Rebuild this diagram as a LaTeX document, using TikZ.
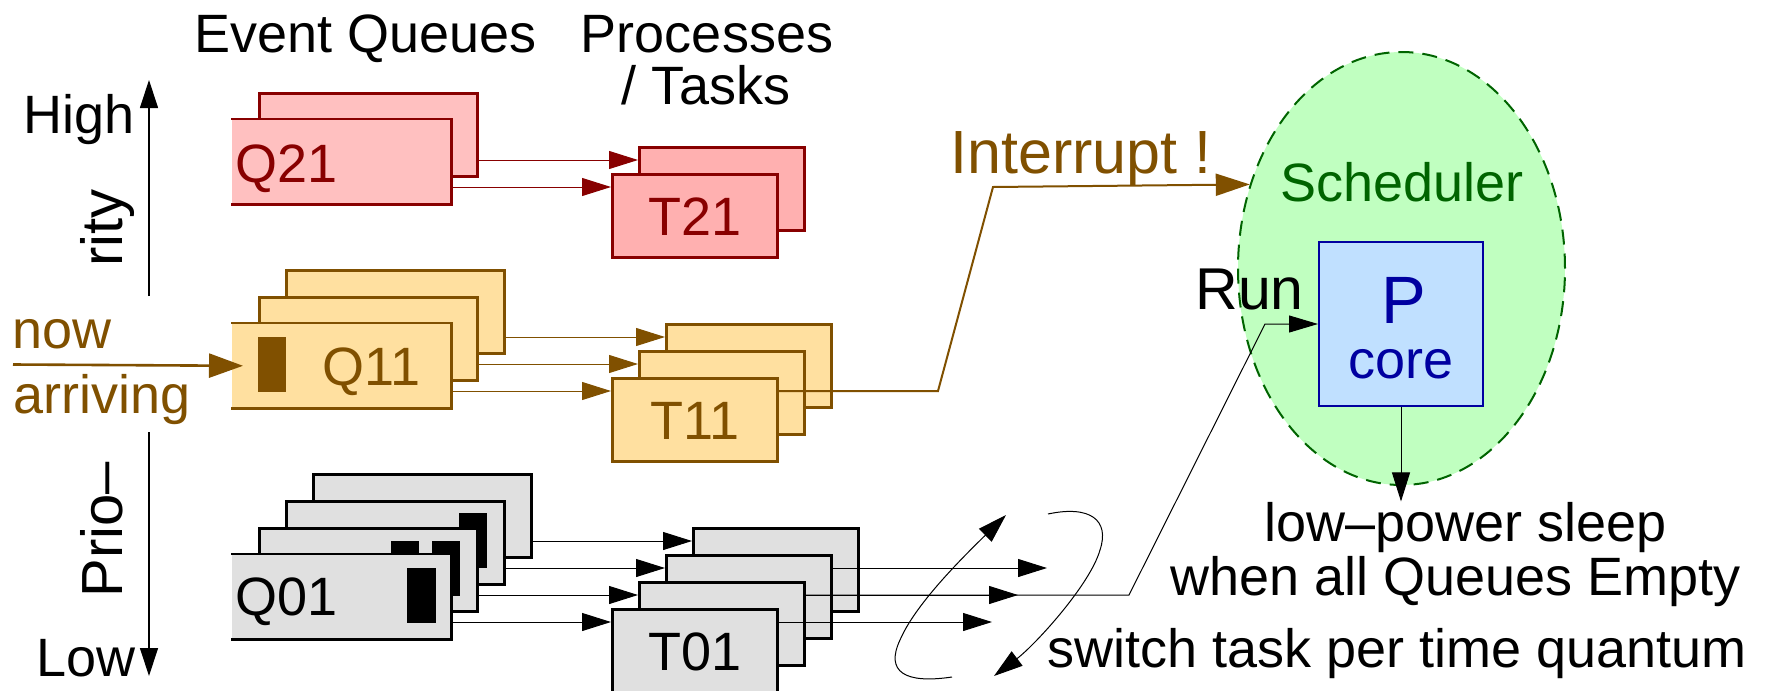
\documentclass[tikz,border=0pt]{standalone}
\usepackage{fontspec}
\setmainfont{Liberation Sans}
\usetikzlibrary{arrows.meta,shapes.geometric,calc}
\definecolor{dred}{RGB}{136,0,0}
\definecolor{qredfill}{RGB}{255,192,192}
\definecolor{tredfill}{RGB}{255,176,176}
\definecolor{brn}{RGB}{128,80,0}
\definecolor{ofill}{RGB}{255,224,160}
\definecolor{gfill}{RGB}{224,224,224}
\definecolor{sgreen}{RGB}{0,100,0}
\definecolor{sfill}{RGB}{192,255,192}
\definecolor{pblue}{RGB}{0,0,160}
\definecolor{pfill}{RGB}{192,224,255}
\begin{document}
\begin{tikzpicture}[x=0.5pt,y=-0.5pt,
  txt/.style={inner sep=0pt, anchor=base west, font=\fontsize{27}{30}\selectfont},
  ctxt/.style={txt, anchor=base},
  vtxt/.style={inner sep=0pt, anchor=base west, rotate=90, font=\fontsize{29}{32}\selectfont},
  box/.style={rectangle, inner sep=0pt, anchor=north west, line width=1.3pt},
  qbox/.style={box, minimum width=109pt, minimum height=41.5pt},
  tbox/.style={box, minimum width=82.5pt, minimum height=41.5pt},
  thinarr/.style={line width=0.5pt, -{Triangle[length=14.5pt,width=9pt]}},
  openbox/.style={line width=1.3pt},
]
\useasboundingbox (0,0) rectangle (1768,691);

% ---------- titles ----------
\node[txt] (evq) at (194,52) {Event Queues};
\node[ctxt] (proc1) at (707,52) {Processes};
\node[ctxt] (proc2) at (706,104) {/ Tasks};

% ---------- priority axis ----------
\node[txt] (high) at (23,133) {High};
\node[txt] (low) at (36,676) {Low};
\node[vtxt] (rity) at (122,267) {rity};
\node[vtxt] (prio) at (122,598) {Prio--};
\coordinate (axt) at (149,80);
\coordinate (axm1) at (149,296);
\coordinate (axm2) at (149,432);
\coordinate (axb) at (149,676);
\draw[line width=0.6pt, -{Triangle[length=14pt,width=9pt]}] (axm1) -- (axt);
\draw[line width=0.6pt, -{Triangle[length=14pt,width=9pt]}] (axm2) -- (axb);

% ---------- Q21 / T21 ----------
\node[qbox, fill=qredfill, draw=dred] (q21b) at (258,92) {};
\node[qbox, fill=qredfill] (q21f) at (231,119) {};
\draw[openbox, dred] (q21f.north west) -- (q21f.north east) -- (q21f.south east) -- (q21f.south west);
\node[txt, text=dred] (q21l) at (235,182) {Q21};
\node[tbox, fill=tredfill, draw=dred] (t21b) at (638,146) {};
\node[tbox, fill=tredfill, draw=dred] (t21f) at (611,173) {};
\node[ctxt, text=dred] (t21l) at ($(t21f.north)+(0,62)$) {T21};
\draw[thinarr, dred] ($(q21b.north east)+(0,68)$) coordinate (a21b) -- (a21b -| t21b.west);
\draw[thinarr, dred] ($(q21f.north east)+(0,68)$) coordinate (a21f) -- (a21f -| t21f.west);

% ---------- Q11 / T11 ----------
\node[qbox, fill=ofill, draw=brn] (q11b) at (285,269) {};
\node[qbox, fill=ofill, draw=brn] (q11m) at (258,296) {};
\node[qbox, fill=ofill] (q11f) at (231,323) {};
\draw[openbox, brn] (q11f.north west) -- (q11f.north east) -- (q11f.south east) -- (q11f.south west);
\fill[brn] ($(q11f.north west)+(27,14)$) rectangle ++(28,55);
\node[txt, text=brn] (q11l) at (322,385) {Q11};
\node[tbox, fill=ofill, draw=brn] (t11b) at (665,323) {};
\node[tbox, fill=ofill, draw=brn] (t11m) at (638,350) {};
\node[tbox, fill=ofill, draw=brn] (t11f) at (611,377) {};
\node[ctxt, text=brn] (t11l) at ($(t11f.north)+(0,62)$) {T11};
\draw[thinarr, brn] ($(q11b.north east)+(0,68)$) coordinate (a11b) -- (a11b -| t11b.west);
\draw[thinarr, brn] ($(q11m.north east)+(0,68)$) coordinate (a11m) -- (a11m -| t11m.west);
\draw[thinarr, brn] ($(q11f.north east)+(0,68)$) coordinate (a11f) -- (a11f -| t11f.west);

% now arriving
\node[txt, text=brn] (now) at (12,348) {now};
\node[txt, text=brn] (arr) at (13,413) {arriving};
\coordinate (nowstart) at (13,364.5);
\draw[brn, line width=1.3pt, -{Triangle[length=17pt,width=12pt]}] (nowstart) -- ($(q11f.west)+(12,0)$);

% ---------- Q01 / T01 ----------
\node[qbox, fill=gfill, draw=black] (q01d) at (312,473) {};
\node[qbox, fill=gfill, draw=black] (q01c) at (285,500) {};
\fill ($(q01c.north west)+(174,13)$) rectangle ++(28,55);
\node[qbox, fill=gfill, draw=black] (q01b) at (258,527) {};
\fill ($(q01b.north west)+(133,14)$) rectangle ++(28,55);
\fill ($(q01b.north west)+(174,14)$) rectangle ++(28,55);
\node[qbox, fill=gfill] (q01f) at (231,554) {};
\draw[openbox] (q01f.north west) -- (q01f.north east) -- (q01f.south east) -- (q01f.south west);
\fill ($(q01f.north west)+(176,14)$) rectangle ++(29,55);
\node[txt] (q01l) at (235,615) {Q01};

\node[tbox, fill=gfill, draw=black] (t01d) at (692,527) {};
\node[tbox, fill=gfill, draw=black] (t01c) at (665,554) {};
\node[tbox, fill=gfill, draw=black] (t01b) at (638,581) {};
\node[tbox, fill=gfill, draw=black] (t01f) at (611,608) {};
\node[ctxt] (t01l) at ($(t01f.north)+(0,62)$) {T01};
\draw[thinarr] ($(q01d.north east)+(0,68)$) coordinate (a01d) -- (a01d -| t01d.west);
\draw[thinarr] ($(q01c.north east)+(0,68)$) coordinate (a01c) -- (a01c -| t01c.west);
\draw[thinarr] ($(q01b.north east)+(0,68)$) coordinate (a01b) -- (a01b -| t01b.west);
\draw[thinarr] ($(q01f.north east)+(0,68)$) coordinate (a01f) -- (a01f -| t01f.west);

% outgoing task arrows
\coordinate (oc) at (1047,568);
\coordinate (ob) at (1018,595);
\coordinate (of) at (992,622);
\draw[thinarr] ($(t01c.north east)+(0,14)$) coordinate (sc) -- (sc -| oc);
\draw[thinarr] ($(t01b.north east)+(0,14)$) coordinate (sb) -- (sb -| ob);
\draw[thinarr] ($(t01f.north east)+(0,14)$) coordinate (sf) -- (sf -| of);

% rotation swirl
\draw[thinarr] (952,677) .. controls (905,684) and (885,672) .. (900,640)
  .. controls (915,605) and (960,560) .. (1006,515);
\draw[thinarr] (1048,514) .. controls (1090,505) and (1110,520) .. (1100,550)
  .. controls (1090,585) and (1035,645) .. (994,676);

% ---------- scheduler ----------
\node[ellipse, draw=sgreen, fill=sfill, line width=1pt, dash pattern=on 7.5pt off 4.5pt,
      minimum width=163.5pt, minimum height=216.5pt, inner sep=0pt] (sched) at (1401.5,268.5) {};
\node[ctxt, text=sgreen] (schedl) at (1402,201) {Scheduler};
\node[rectangle, draw=pblue, fill=pfill, line width=1pt, minimum width=82pt, minimum height=82pt, inner sep=0pt] (pcore) at (1401,324) {};
\node[inner sep=0pt, anchor=base, text=pblue, font=\fontsize{33.5}{36}\selectfont] (pl) at (1404,323) {P};
\node[ctxt, text=pblue] (corel) at (1401,378) {core};

% interrupt
\node[inner sep=0pt, anchor=base west, text=brn, font=\fontsize{30.5}{33}\selectfont] (intl) at (950,173) {Interrupt !};
\draw[brn, line width=1pt, -{Triangle[length=17pt,width=11pt]}]
  ($(t11f.north east)+(0,14)$) -- (938,391) -- (993,187) -- (sched.151.7);

% run
\node[inner sep=0pt, anchor=base west, font=\fontsize{29.5}{33}\selectfont] (runl) at (1195,309) {Run};
\draw[line width=0.5pt, -{Triangle[length=14.5pt,width=8.5pt]}]
  ($(t01b.north east)+(0,14)$) -- (1129,595) -- (1265,324) -- (pcore.west);

% sleep
\node[txt] (lowp) at (1264.5,541) {low--power sleep};
\node[txt] (whenq) at (1170,595) {when all Queues Empty};
\node[txt] (switchl) at (1047,667) {switch task per time quantum};
\draw[thinarr] (pcore.south) -- (pcore.south |- lowp.north);
\end{tikzpicture}
\end{document}
